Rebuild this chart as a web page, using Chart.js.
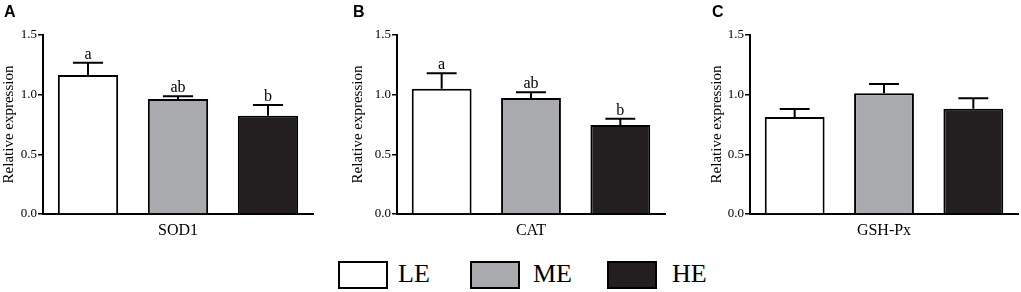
<!DOCTYPE html>
<html>
<head>
<meta charset="utf-8">
<script src="https://cdn.jsdelivr.net/npm/chart.js@4.4.0/dist/chart.umd.min.js"></script>
<style>
  body { margin: 0; background: #fff; width: 1021px; height: 292px; position: relative; overflow: hidden; }
  .panel { position: absolute; top: 0; height: 240px; }
  .legend { position: absolute; top: 258px; height: 32px; font-family: 'Liberation Serif', serif; font-size: 26px; color: #000; }
  .legend .box { position: absolute; top: 3px; width: 46px; height: 24px; border: 2px solid #000; }
  .legend .txt { position: absolute; top: 0; line-height: 32px; }
</style>
</head>
<body>
<div class="panel" id="pA" style="left:0px;width:316px"><canvas id="cA"></canvas></div>
<div class="panel" id="pB" style="left:349px;width:319px"><canvas id="cB"></canvas></div>
<div class="panel" id="pC" style="left:708px;width:313px"><canvas id="cC"></canvas></div>

<div class="legend" style="left:338px">
  <div class="box" style="left:0;background:#ffffff"></div><div class="txt" style="left:60px">LE</div>
  <div class="box" style="left:132px;background:#a9aaae"></div><div class="txt" style="left:195px">ME</div>
  <div class="box" style="left:269px;background:#231f20"></div><div class="txt" style="left:334px">HE</div>
</div>

<script>
// groups and colours
const groups = ['LE', 'ME', 'HE'];
const groupColors = ['#ffffff', '#a9aaae', '#231f20'];

// panels
const panelLetters = ['A', 'B', 'C'];
const genes = ['SOD1', 'CAT', 'GSH-Px'];

// means and SEM (upper error bar only)
const sodMean = [1.165, 0.964, 0.824];
const sodErr = [0.103, 0.022, 0.090];
const catMean = [1.050, 0.972, 0.746];
const catErr = [0.129, 0.048, 0.053];
const gshMean = [0.813, 1.012, 0.883];
const gshErr = [0.067, 0.078, 0.087];

// significance letters
const sodSig = ['a', 'ab', 'b'];
const catSig = ['a', 'ab', 'b'];
const gshSig = ['', '', ''];

const yTicks = [0, 0.5, 1.0, 1.5];

const serif = "'Liberation Serif', 'Times New Roman', serif";

// draws the upper error bars, sig letters and the panel letter
const errorBarPlugin = {
    id: 'errorBars',
    afterDatasetsDraw(chart, args, opts) {
        const ctx = chart.ctx;
        const meta = chart.getDatasetMeta(0);
        const y = chart.scales.y;
        ctx.save();
        ctx.strokeStyle = '#000';
        ctx.lineWidth = 2;
        meta.data.forEach((bar, i) => {
            const top = y.getPixelForValue(opts.mean[i] + opts.err[i]);
            const base = y.getPixelForValue(opts.mean[i]);
            const half = bar.width / 4;
            ctx.beginPath();
            ctx.moveTo(bar.x, base);
            ctx.lineTo(bar.x, top);
            ctx.moveTo(bar.x - half, top);
            ctx.lineTo(bar.x + half, top);
            ctx.stroke();
            if (opts.sig[i]) {
                ctx.fillStyle = '#000';
                ctx.font = '16px ' + serif;
                ctx.textAlign = 'center';
                ctx.textBaseline = 'alphabetic';
                ctx.fillText(opts.sig[i], bar.x, top - 4);
            }
        });
        // panel letter
        ctx.fillStyle = '#000';
        ctx.font = "bold 16px 'Liberation Sans', Arial, sans-serif";
        ctx.textAlign = 'left';
        ctx.textBaseline = 'alphabetic';
        ctx.fillText(opts.letter, 4, 17);
        ctx.restore();
    }
};

function makePanel(canvasId, idx, mean, err, sig, yWidth) {
    const ctx = document.getElementById(canvasId).getContext('2d');
    return new Chart(ctx, {
        type: 'bar',
        data: {
            labels: groups,
            datasets: [{
                data: mean,
                backgroundColor: groupColors,
                borderColor: '#000',
                borderWidth: 2,
                borderSkipped: 'bottom',
                barPercentage: 0.67,
                categoryPercentage: 1.0
            }]
        },
        options: {
            responsive: true,
            maintainAspectRatio: false,
            animation: false,
            layout: { padding: { top: 35, right: 3, bottom: 0, left: 0 } },
            plugins: {
                legend: { display: false },
                tooltip: { enabled: false },
                errorBars: { mean: mean, err: err, sig: sig, letter: panelLetters[idx] }
            },
            scales: {
                x: {
                    grid: { display: false },
                    border: { display: true, color: '#000', width: 2 },
                    ticks: { display: false },
                    title: {
                        display: true,
                        text: genes[idx],
                        color: '#000',
                        font: { family: serif, size: 16 },
                        padding: { top: 0, bottom: 0 }
                    },
                    afterFit: s => { s.height = 26; }
                },
                y: {
                    min: 0,
                    max: 1.5,
                    afterBuildTicks: s => { s.ticks = yTicks.map(v => ({ value: v })); },
                    grid: { display: true, drawOnChartArea: false, drawTicks: true, tickLength: 5, color: '#000', lineWidth: 1.5 },
                    border: { display: true, color: '#000', width: 2 },
                    ticks: {
                        color: '#000',
                        padding: 1,
                        font: { family: serif, size: 13 },
                        callback: v => Number(v).toFixed(1)
                    },
                    title: {
                        display: true,
                        text: 'Relative expression',
                        color: '#000',
                        font: { family: serif, size: 15 },
                        padding: { top: 0, bottom: 0 }
                    },
                    afterFit: s => { s.width = yWidth; }
                }
            }
        },
        plugins: [errorBarPlugin]
    });
}

makePanel('cA', 0, sodMean, sodErr, sodSig, 43);
makePanel('cB', 1, catMean, catErr, catSig, 48);
makePanel('cC', 2, gshMean, gshErr, gshSig, 42);
</script>
</body>
</html>
